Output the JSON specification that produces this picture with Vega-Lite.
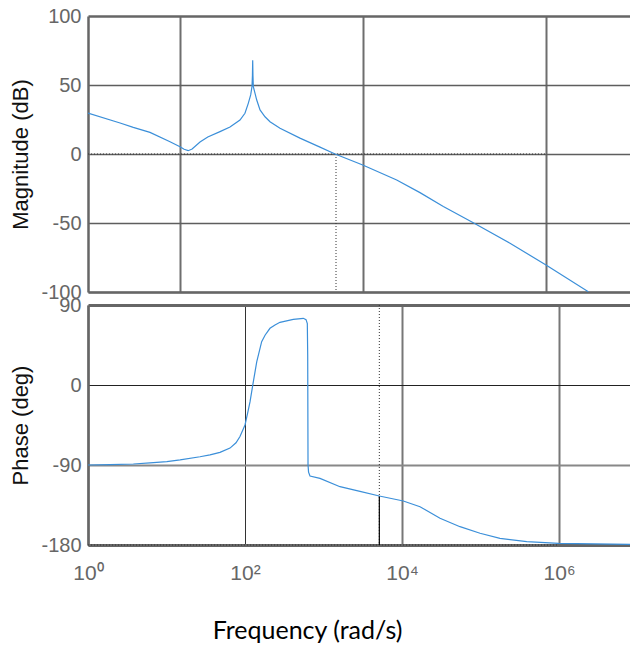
{
  "$schema": "https://vega.github.io/schema/vega-lite/v6.json",
  "background": "white",
  "padding": {"left": 8, "top": 6, "right": 0, "bottom": 0},
  "spacing": 13,
  "bounds": "flush",
  "config": {"view": {"stroke": null}},
  "datasets": {
    "mag": [
      {"f": 1, "db": 29.7}, {"f": 2.24, "db": 22.5}, {"f": 3.12, "db": 19.3}, {"f": 4.75, "db": 15.7},
      {"f": 7.86, "db": 8.9}, {"f": 10.1, "db": 5.3}, {"f": 11.2, "db": 3.4}, {"f": 12.4, "db": 2.4},
      {"f": 13.7, "db": 3.6}, {"f": 16.7, "db": 8.7}, {"f": 20.3, "db": 12.3}, {"f": 27.6, "db": 16.2},
      {"f": 35.5, "db": 19.5}, {"f": 45.6, "db": 24.6}, {"f": 51.7, "db": 29.5}, {"f": 56.2, "db": 36.7},
      {"f": 59.7, "db": 42.8}, {"f": 61.7, "db": 48.8}, {"f": 62.4, "db": 57}, {"f": 62.8, "db": 68},
      {"f": 63.2, "db": 57}, {"f": 63.8, "db": 48.8}, {"f": 66.6, "db": 44}, {"f": 69.5, "db": 39.1},
      {"f": 75.5, "db": 31.9}, {"f": 85.6, "db": 27}, {"f": 97, "db": 23.4}, {"f": 124.8, "db": 18.6},
      {"f": 206, "db": 11.5}, {"f": 341, "db": 5}, {"f": 498, "db": 0}, {"f": 998, "db": -8},
      {"f": 2344, "db": -18.8}, {"f": 4210, "db": -28}, {"f": 7570, "db": -38}, {"f": 16080, "db": -49.8},
      {"f": 40460, "db": -64.7}, {"f": 100000, "db": -80.4}, {"f": 289700, "db": -99.8}
    ],
    "phase": [
      {"f": 1, "deg": -90}, {"f": 1.91, "deg": -89.5}, {"f": 3.78, "deg": -88.9}, {"f": 6.17, "deg": -87.6},
      {"f": 10.1, "deg": -86.2}, {"f": 14.9, "deg": -84.3}, {"f": 26.7, "deg": -80.7}, {"f": 35.8, "deg": -78.6},
      {"f": 48, "deg": -75.8}, {"f": 64.4, "deg": -71}, {"f": 76.8, "deg": -65}, {"f": 86.3, "deg": -58},
      {"f": 100, "deg": -45}, {"f": 109, "deg": -30}, {"f": 115.8, "deg": -19}, {"f": 127.7, "deg": 3.7},
      {"f": 141, "deg": 26}, {"f": 163, "deg": 48.7}, {"f": 180, "deg": 56}, {"f": 208, "deg": 63.8},
      {"f": 241, "deg": 67.5}, {"f": 279, "deg": 70.5}, {"f": 412, "deg": 73.9}, {"f": 553, "deg": 75},
      {"f": 599, "deg": 73.5}, {"f": 622, "deg": 69}, {"f": 629, "deg": 33.7}, {"f": 635, "deg": -90},
      {"f": 645, "deg": -98}, {"f": 673, "deg": -102.4}, {"f": 902, "deg": -105}, {"f": 1622, "deg": -114.4},
      {"f": 2915, "deg": -119.7}, {"f": 5140, "deg": -124.9}, {"f": 10400, "deg": -130.5}, {"f": 16950, "deg": -136.9},
      {"f": 30480, "deg": -150}, {"f": 54800, "deg": -159.4}, {"f": 98600, "deg": -166.8}, {"f": 177000, "deg": -172.5},
      {"f": 388000, "deg": -176.3}, {"f": 991000, "deg": -178.1}, {"f": 8020000, "deg": -179.2}
    ],
    "magRef": [
      {"x": 1, "x2": 100000, "y": 0, "y2": 0},
      {"x": 510, "x2": 510, "y": 0, "y2": -100}
    ],
    "phaseRef": [
      {"x": 1, "x2": 1000000, "y": -180, "y2": -180},
      {"x": 5140, "x2": 5140, "y": 90, "y2": -180}
    ],
    "phaseMark": [
      {"x": 5140, "y": -180, "y2": -124.9}
    ]
  },
  "vconcat": [
    {
      "width": 542,
      "height": 276,
      "layer": [
        {
          "data": {"name": "magRef"},
          "mark": {"type": "rule", "color": "#333", "strokeWidth": 1, "strokeDash": [1, 2]},
          "encoding": {
            "x": {"field": "x", "type": "quantitative", "scale": {"type": "log", "domain": [1, 826000], "nice": false},
              "axis": {"values": [10, 1000, 100000], "labels": false, "ticks": false, "title": null,
                "domain": true, "domainColor": "#666", "domainWidth": 2.5,
                "grid": true, "gridColor": "#6e6e6e", "gridWidth": 2}},
            "x2": {"field": "x2"},
            "y": {"field": "y", "type": "quantitative", "scale": {"domain": [-100, 100], "nice": false},
              "axis": {"values": [100, 50, 0, -50, -100], "labelExpr": "'' + datum.value",
                "ticks": false, "domain": true, "domainColor": "#666", "domainWidth": 2.5,
                "grid": true,
                "gridColor": {"condition": {"test": "datum.value === 100", "value": "#666"}, "value": "#5e5e5e"},
                "gridWidth": {"condition": {"test": "datum.value === 100", "value": 2.5}, "value": 1.5},
                "labelFont": "Liberation Sans", "labelFontSize": 20, "labelColor": "#666", "labelPadding": 7,
                "title": "Magnitude (dB)", "titleFont": "Liberation Sans", "titleFontSize": 22,
                "titleFontWeight": "normal", "titleColor": "#111", "titleX": -68, "titleY": 138,
                "titleAngle": -90, "titleBaseline": "middle", "titleAlign": "center"}},
            "y2": {"field": "y2"}
          }
        },
        {
          "data": {"name": "mag"},
          "mark": {"type": "line", "color": "#3b8fd9", "strokeWidth": 1.2, "clip": true},
          "encoding": {
            "x": {"field": "f", "type": "quantitative"},
            "y": {"field": "db", "type": "quantitative"}
          }
        }
      ]
    },
    {
      "width": 542,
      "height": 240,
      "layer": [
        {
          "data": {"name": "phaseRef"},
          "mark": {"type": "rule", "color": "#333", "strokeWidth": 1, "strokeDash": [1, 2]},
          "encoding": {
            "x": {"field": "x", "type": "quantitative", "scale": {"type": "log", "domain": [1, 8020000], "nice": false},
              "axis": {"values": [1, 100, 10000, 1000000],
                "labelExpr": "datum.value == 1 ? '10⁰' : datum.value == 100 ? '10²' : datum.value == 10000 ? '10⁴' : '10⁶'",
                "labelFlush": false, "ticks": false,
                "labelFont": "Liberation Sans", "labelFontSize": 21, "labelColor": "#666", "labelPadding": 17,
                "domain": true, "domainColor": "#666", "domainWidth": 3,
                "grid": true,
                "gridColor": {"condition": {"test": "datum.value === 100", "value": "#333"}, "value": "#777"},
                "gridWidth": {"condition": {"test": "datum.value === 100", "value": 1}, "value": 2},
                "title": "Frequency (rad/s)", "titleFont": "Lato", "titleFontSize": 25, "titleFontWeight": "normal",
                "titleColor": "#000", "titleX": 219, "titleY": 93, "titleBaseline": "alphabetic", "titleAlign": "center"}},
            "x2": {"field": "x2"},
            "y": {"field": "y", "type": "quantitative", "scale": {"domain": [-180, 90], "nice": false},
              "axis": {"values": [90, 0, -90, -180], "labelExpr": "'' + datum.value",
                "ticks": false, "domain": true, "domainColor": "#666", "domainWidth": 2.5,
                "grid": true,
                "gridColor": {"condition": [{"test": "datum.value === 90", "value": "#666"}, {"test": "datum.value === 0", "value": "#222"}], "value": "#888"},
                "gridWidth": {"condition": [{"test": "datum.value === 90", "value": 3}, {"test": "datum.value === 0", "value": 1}], "value": 2},
                "labelFont": "Liberation Sans", "labelFontSize": 20, "labelColor": "#666", "labelPadding": 7,
                "title": "Phase (deg)", "titleFont": "Liberation Sans", "titleFontSize": 22,
                "titleFontWeight": "normal", "titleColor": "#111", "titleX": -68, "titleY": 120,
                "titleAngle": -90, "titleBaseline": "middle", "titleAlign": "center"}},
            "y2": {"field": "y2"}
          }
        },
        {
          "data": {"name": "phaseMark"},
          "mark": {"type": "rule", "color": "#000", "strokeWidth": 1.2},
          "encoding": {
            "x": {"field": "x", "type": "quantitative"},
            "y": {"field": "y", "type": "quantitative"},
            "y2": {"field": "y2"}
          }
        },
        {
          "data": {"name": "phase"},
          "mark": {"type": "line", "color": "#3b8fd9", "strokeWidth": 1.2, "clip": true},
          "encoding": {
            "x": {"field": "f", "type": "quantitative"},
            "y": {"field": "deg", "type": "quantitative"}
          }
        }
      ]
    }
  ]
}
